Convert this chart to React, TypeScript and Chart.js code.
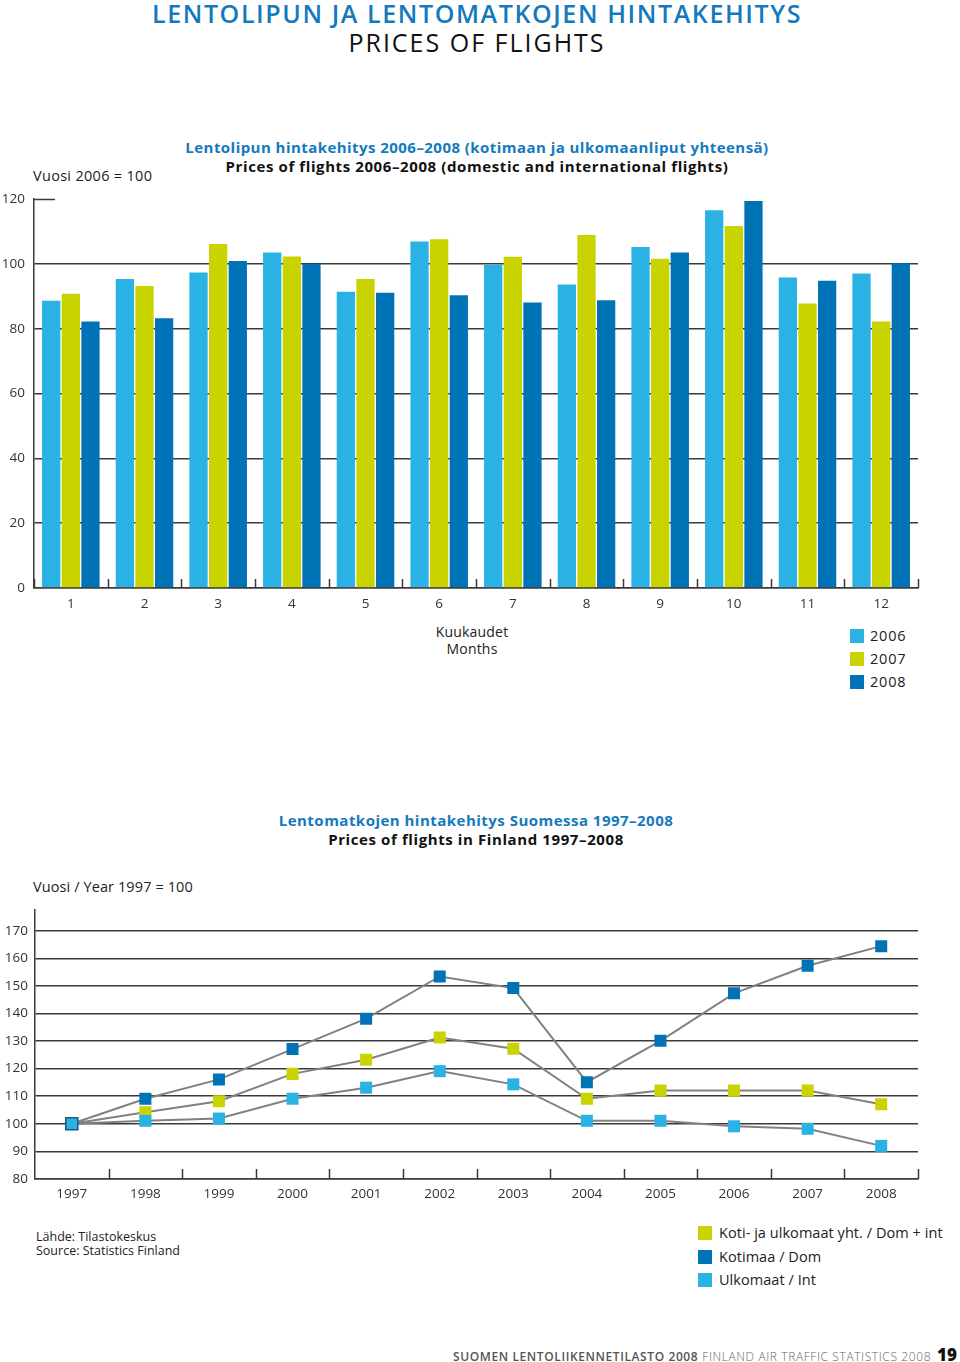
import React, { useEffect, useRef } from "react";
import { Chart, registerables } from "chart.js";

Chart.register(...registerables);

// ---------- Data: bar chart (2006 = 100) ----------
const months = ["1", "2", "3", "4", "5", "6", "7", "8", "9", "10", "11", "12"];
const prices2006 = [88.6, 95.3, 97.3, 103.5, 91.4, 106.9, 99.7, 93.6, 105.2, 116.5, 95.8, 97.0];
const prices2007 = [90.8, 93.2, 106.1, 102.3, 95.3, 107.6, 102.2, 108.9, 101.6, 111.7, 87.8, 82.2];
const prices2008 = [82.2, 83.2, 100.9, 100.0, 91.1, 90.3, 88.1, 88.8, 103.5, 119.4, 94.8, 100.2];
const barYTicks = [0, 20, 40, 60, 80, 100, 120];

// ---------- Data: line chart (1997 = 100) ----------
const years = ["1997", "1998", "1999", "2000", "2001", "2002", "2003", "2004", "2005", "2006", "2007", "2008"];
const domIntIndex = [100, 104.2, 108.2, 118.1, 123.2, 131.3, 127.2, 109.1, 112.1, 112.1, 112.1, 107.1];
const domIndex = [100, 109.1, 116.1, 127.1, 138.1, 153.4, 149.2, 115.1, 130.1, 147.3, 157.3, 164.4];
const intIndex = [100, 101.1, 101.9, 109.1, 113.1, 119.1, 114.3, 101.1, 101.1, 99.1, 98.2, 92.0];
const lineYTicks = [80, 90, 100, 110, 120, 130, 140, 150, 160, 170];

const LIGHT = "#2bb2e4";
const LIME = "#c8d300";
const DARK = "#0073b7";
const TITLE_BLUE = "#1479bd";
const GRID = "#3a3a3a";
const FONT = "'Open Sans', sans-serif";

const noPad = (s: any) => {
  s.paddingTop = 0;
  s.paddingBottom = 0;
  s.paddingLeft = 0;
  s.paddingRight = 0;
};

// Small upward tick marks at category boundaries on the x axis
const upTicksPlugin = {
  id: "upTicks",
  afterDatasetsDraw(chart: any, _args: any, opts: any) {
    const x = chart.scales.x;
    const ctx = chart.ctx;
    const n = chart.data.labels.length;
    const len = opts.length ?? 9;
    ctx.save();
    ctx.strokeStyle = GRID;
    ctx.lineWidth = 1.5;
    for (let i = opts.skipFirst ? 1 : 0; i <= n; i++) {
      const px = Math.round(x.getPixelForValue(i - 0.5)) + 0.5;
      ctx.beginPath();
      ctx.moveTo(px, x.top);
      ctx.lineTo(px, x.top - len);
      ctx.stroke();
    }
    ctx.restore();
  },
};

// Short stub line at the top y tick (120) of the bar chart
const topStubPlugin = {
  id: "topStub",
  afterDraw(chart: any, _args: any, opts: any) {
    if (!opts || !opts.enabled) return;
    const y = chart.scales.y;
    const ctx = chart.ctx;
    const py = Math.round(y.getPixelForValue(opts.value)) + 0.5;
    ctx.save();
    ctx.strokeStyle = GRID;
    ctx.lineWidth = 1.5;
    ctx.beginPath();
    ctx.moveTo(chart.chartArea.left, py);
    ctx.lineTo(chart.chartArea.left + opts.length, py);
    ctx.stroke();
    ctx.restore();
  },
};

function BarChart() {
  const ref = useRef<HTMLCanvasElement>(null);
  useEffect(() => {
    const chart = new Chart(ref.current as HTMLCanvasElement, {
      type: "bar",
      data: {
        labels: months,
        datasets: [
          { label: "2006", data: prices2006, backgroundColor: LIGHT },
          { label: "2007", data: prices2007, backgroundColor: LIME },
          { label: "2008", data: prices2008, backgroundColor: DARK },
        ],
      },
      options: {
        responsive: false,
        animation: false,
        layout: { padding: { top: 19, right: 22, left: 0, bottom: 0 } },
        datasets: { bar: { categoryPercentage: 0.8, barPercentage: 0.93 } },
        plugins: {
          legend: { display: false },
          tooltip: { enabled: false },
          upTicks: { length: 9, skipFirst: false },
          topStub: { enabled: true, value: 120, length: 21 },
        } as any,
        scales: {
          x: {
            afterFit: (s: any) => { s.height = 32; noPad(s); },
            grid: { display: false, drawTicks: false },
            border: { display: true, color: GRID, width: 1.5 },
            ticks: { color: "#333", font: { family: FONT, size: 13.5 }, padding: 8, maxRotation: 0 },
          },
          y: {
            min: 0,
            max: 120,
            afterFit: (s: any) => { s.width = 34; noPad(s); },
            afterBuildTicks: (s: any) => { s.ticks = barYTicks.map((v) => ({ value: v })); },
            grid: {
              drawTicks: false,
              lineWidth: 1.5,
              color: (c: any) => (c.tick && c.tick.value === 120 ? "rgba(0,0,0,0)" : GRID),
            },
            border: { display: true, color: GRID, width: 1.5 },
            ticks: { color: "#333", font: { family: FONT, size: 13.5 }, padding: 9 },
          },
        },
      },
      plugins: [upTicksPlugin, topStubPlugin],
    });
    return () => chart.destroy();
  }, []);
  return (
    <canvas
      ref={ref}
      width={940}
      height={440}
      style={{ position: "absolute", left: 0, top: 180, width: 940, height: 440 }}
    />
  );
}

function LineChart() {
  const ref = useRef<HTMLCanvasElement>(null);
  useEffect(() => {
    const common = {
      borderColor: "#818181",
      borderWidth: 2,
      pointStyle: "rect",
      pointRadius: 8.5,
      pointHoverRadius: 8.5,
      tension: 0,
    };
    const chart = new Chart(ref.current as HTMLCanvasElement, {
      type: "line",
      data: {
        labels: years,
        datasets: [
          {
            ...common,
            label: "Ulkomaat / Int",
            data: intIndex,
            pointBackgroundColor: LIGHT,
            pointBorderColor: "#1a5a80",
            pointBorderWidth: (c: any) => (c.dataIndex === 0 ? 1.5 : 0),
          },
          {
            ...common,
            label: "Koti- ja ulkomaat yht. / Dom + int",
            data: domIntIndex,
            pointBackgroundColor: LIME,
            pointBorderWidth: 0,
          },
          {
            ...common,
            label: "Kotimaa / Dom",
            data: domIndex,
            pointBackgroundColor: DARK,
            pointBorderWidth: 0,
          },
        ] as any,
      },
      options: {
        responsive: false,
        animation: false,
        layout: { padding: { top: 8, right: 22, left: 0, bottom: 0 } },
        plugins: {
          legend: { display: false },
          tooltip: { enabled: false },
          upTicks: { length: 10, skipFirst: true },
          topStub: { enabled: false },
        } as any,
        scales: {
          x: {
            offset: true,
            afterFit: (s: any) => { s.height = 31; noPad(s); },
            grid: { display: false, drawTicks: false },
            border: { display: true, color: GRID, width: 1.5 },
            ticks: { color: "#333", font: { family: FONT, size: 13.5 }, padding: 7, maxRotation: 0 },
          },
          y: {
            min: 80,
            max: 177.5,
            afterFit: (s: any) => { s.width = 35; noPad(s); },
            afterBuildTicks: (s: any) => { s.ticks = lineYTicks.map((v) => ({ value: v })); },
            grid: { drawTicks: false, lineWidth: 1.5, color: GRID },
            border: { display: true, color: GRID, width: 1.5 },
            ticks: { color: "#333", font: { family: FONT, size: 13.5 }, padding: 7 },
          },
        },
      },
      plugins: [upTicksPlugin, topStubPlugin],
    });
    return () => chart.destroy();
  }, []);
  return (
    <canvas
      ref={ref}
      width={940}
      height={310}
      style={{ position: "absolute", left: 0, top: 900, width: 940, height: 310 }}
    />
  );
}

type TxtProps = {
  x: number;
  y: number;
  size: number;
  weight?: number;
  color?: string;
  center?: boolean;
  spacing?: number;
  children: React.ReactNode;
};

function Txt({ x, y, size, weight = 400, color = "#222", center = false, spacing = 0, children }: TxtProps) {
  return (
    <div
      style={{
        position: "absolute",
        left: x,
        top: y,
        transform: center ? "translate(-50%, -50%)" : "translateY(-50%)",
        fontFamily: FONT,
        fontSize: size,
        fontWeight: weight,
        color,
        lineHeight: 1,
        whiteSpace: "nowrap",
        letterSpacing: spacing,
      }}
    >
      {children}
    </div>
  );
}

function Swatch({ x, y, color }: { x: number; y: number; color: string }) {
  return <div style={{ position: "absolute", left: x, top: y, width: 14, height: 14, background: color }} />;
}

export default function App() {
  return (
    <div
      style={{
        position: "absolute",
        left: 0,
        top: 0,
        width: 960,
        height: 1362,
        background: "#fff",
        overflow: "hidden",
      }}
    >
      <Txt x={477} y={13} size={25} weight={600} color={TITLE_BLUE} center spacing={1.6}>
        LENTOLIPUN JA LENTOMATKOJEN HINTAKEHITYS
      </Txt>
      <Txt x={477} y={42} size={25} weight={400} color="#111" center spacing={2.0}>
        PRICES OF FLIGHTS
      </Txt>

      <Txt x={477} y={147} size={15} weight={700} color={TITLE_BLUE} center spacing={0.45}>
        Lentolipun hintakehitys 2006–2008 (kotimaan ja ulkomaanliput yhteensä)
      </Txt>
      <Txt x={477} y={166} size={15} weight={700} color="#111" center spacing={0.6}>
        Prices of flights 2006–2008 (domestic and international flights)
      </Txt>
      <Txt x={33} y={176} size={14.5} color="#222" spacing={0.3}>
        Vuosi 2006 = 100
      </Txt>

      <BarChart />

      <Txt x={472} y={632} size={14} color="#222" center spacing={0.2}>
        Kuukaudet
      </Txt>
      <Txt x={472} y={649} size={14} color="#222" center spacing={0.2}>
        Months
      </Txt>

      <Swatch x={850} y={629} color={LIGHT} />
      <Txt x={870} y={636} size={14.5} color="#222" spacing={0.8}>2006</Txt>
      <Swatch x={850} y={652} color={LIME} />
      <Txt x={870} y={659} size={14.5} color="#222" spacing={0.8}>2007</Txt>
      <Swatch x={850} y={675} color={DARK} />
      <Txt x={870} y={682} size={14.5} color="#222" spacing={0.8}>2008</Txt>

      <Txt x={476} y={820} size={15} weight={700} color={TITLE_BLUE} center spacing={0.48}>
        Lentomatkojen hintakehitys Suomessa 1997–2008
      </Txt>
      <Txt x={476} y={839} size={15} weight={700} color="#111" center spacing={0.6}>
        Prices of flights in Finland 1997–2008
      </Txt>
      <Txt x={33} y={887} size={14.5} color="#222" spacing={0.1}>
        Vuosi / Year 1997 = 100
      </Txt>

      <LineChart />

      <Txt x={36} y={1237} size={12.5} color="#222">Lähde: Tilastokeskus</Txt>
      <Txt x={36} y={1251} size={12.5} color="#222">Source: Statistics Finland</Txt>

      <Swatch x={698} y={1226} color={LIME} />
      <Txt x={719} y={1233} size={14.5} color="#222" spacing={0.05}>Koti- ja ulkomaat yht. / Dom + int</Txt>
      <Swatch x={698} y={1250} color={DARK} />
      <Txt x={719} y={1257} size={14.5} color="#222" spacing={0.05}>Kotimaa / Dom</Txt>
      <Swatch x={698} y={1273} color={LIGHT} />
      <Txt x={719} y={1280} size={14.5} color="#222" spacing={0.05}>Ulkomaat / Int</Txt>

      <div
        style={{
          position: "absolute",
          right: 3,
          top: 1354,
          transform: "translateY(-50%)",
          fontFamily: FONT,
          lineHeight: 1,
          whiteSpace: "nowrap",
          display: "flex",
          alignItems: "baseline",
        }}
      >
        <span style={{ fontSize: 12, fontWeight: 600, color: "#555", letterSpacing: 0.6 }}>
          SUOMEN LENTOLIIKENNETILASTO 2008
        </span>
        <span style={{ fontSize: 12, fontWeight: 300, color: "#666", letterSpacing: 0.6, marginLeft: 4 }}>
          FINLAND AIR TRAFFIC STATISTICS 2008
        </span>
        <span style={{ fontSize: 17, fontWeight: 800, color: "#111", marginLeft: 6 }}>19</span>
      </div>
    </div>
  );
}
